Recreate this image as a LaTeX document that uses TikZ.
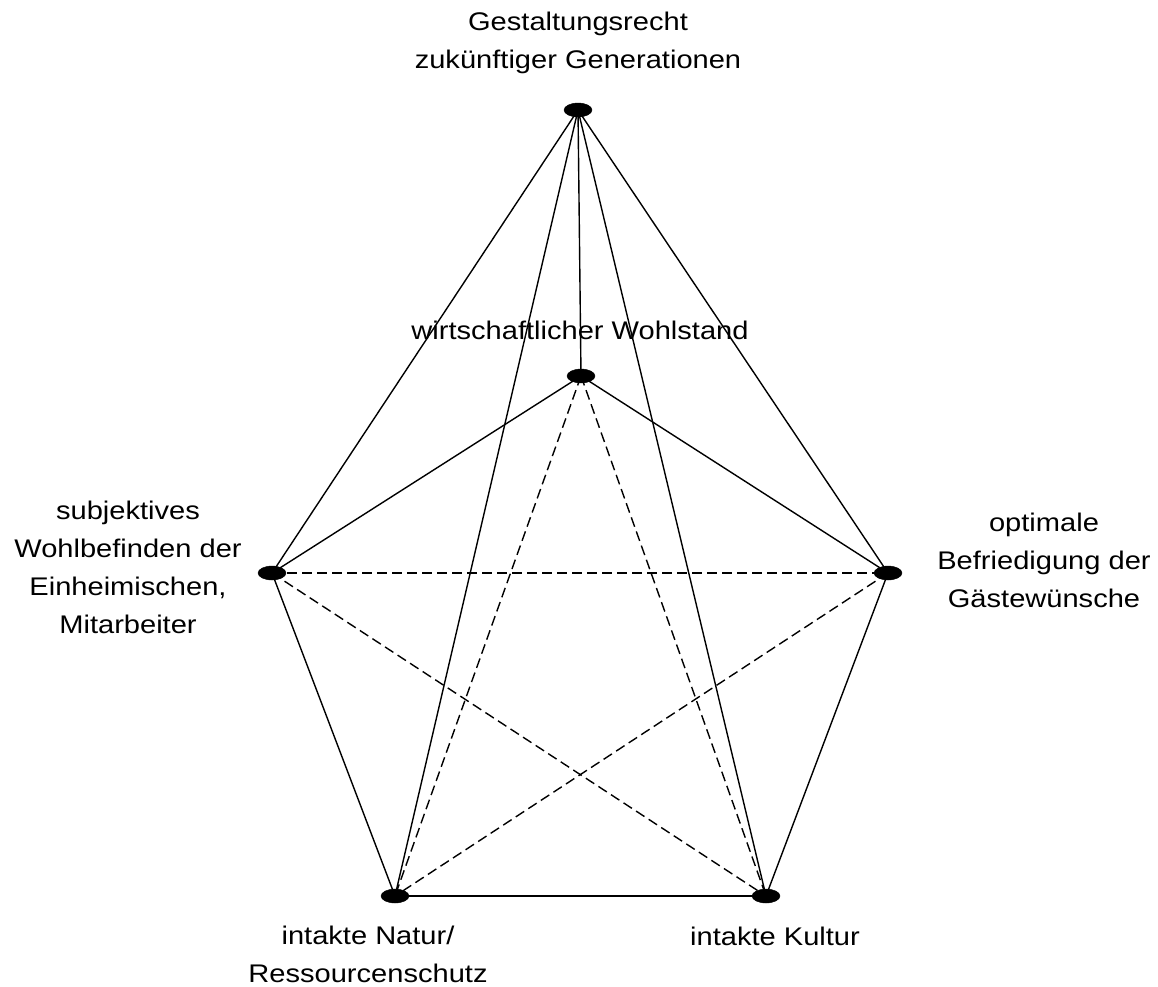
\documentclass[tikz,border=0pt]{standalone}
\usepackage{fontspec}
\setmainfont{Liberation Sans}[FakeStretch=1.14]
\usetikzlibrary{shapes.geometric}
\begin{document}
\begin{tikzpicture}[x=1pt,y=-1pt,
  dot/.style={ellipse,fill=black,draw=black,minimum width=28pt,minimum height=14pt,inner sep=0pt},
  lbl/.style={align=center,inner sep=0pt,font=\fontsize{25.5}{38}\selectfont},
  solidedge/.style={line width=1.4pt},
  dashedge/.style={line width=1.4pt,dash pattern=on 10pt off 5pt}]
\useasboundingbox (0,0) rectangle (1158,986);
\node[dot] (T) at (578,110) {};
\node[dot] (W) at (581,376) {};
\node[dot] (L) at (272,573) {};
\node[dot] (R) at (888,573) {};
\node[dot] (N) at (395,896) {};
\node[dot] (K) at (766,896) {};
% solid
\draw[solidedge] (T.center) -- (L.center);
\draw[solidedge] (T.center) -- (R.center);
\draw[solidedge] (T.center) -- (W.center);
\draw[solidedge] (T.center) -- (N.center);
\draw[solidedge] (T.center) -- (K.center);
\draw[solidedge] (W.center) -- (L.center);
\draw[solidedge] (W.center) -- (R.center);
\draw[solidedge] (L.center) -- (N.center);
\draw[solidedge] (R.center) -- (K.center);
\draw[solidedge] (N.center) -- (K.center);
% dashed
\draw[dashedge] (L.center) -- (R.center);
\draw[dashedge] (L.center) -- (K.center);
\draw[dashedge] (R.center) -- (N.center);
\draw[dashedge] (W.center) -- (N.center);
\draw[dashedge] (W.center) -- (K.center);
% labels
\node[lbl] (tT) at (578,43) {Gestaltungsrecht\\zukünftiger Generationen};
\node[lbl] (tW) at (580,330) {wirtschaftlicher Wohlstand};
\node[lbl] (tL) at (128,567) {subjektives\\Wohlbefinden der\\Einheimischen,\\Mitarbeiter};
\node[lbl] (tR) at (1044,560) {optimale\\Befriedigung der\\Gästewünsche};
\node[lbl] (tN) at (368,954) {intakte Natur/\\Ressourcenschutz};
\node[lbl] (tK) at (775,936) {intakte Kultur};
\end{tikzpicture}
\end{document}
